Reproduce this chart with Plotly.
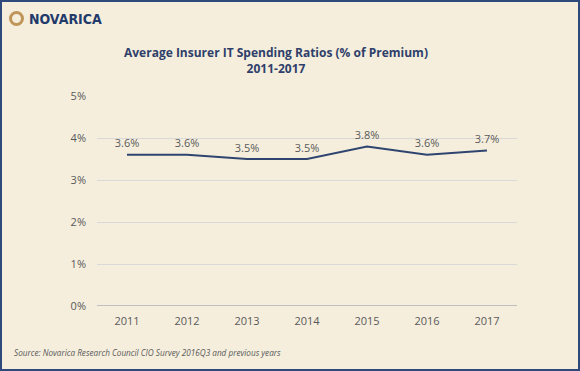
import plotly.graph_objects as go

years = ["2011", "2012", "2013", "2014", "2015", "2016", "2017"]
ratios = [3.6, 3.6, 3.5, 3.5, 3.8, 3.6, 3.7]
labels = ["3.6%", "3.6%", "3.5%", "3.5%", "3.8%", "3.6%", "3.7%"]
tick_vals = [0, 1, 2, 3, 4, 5]
tick_text = ["0%", "1%", "2%", "3%", "4%", "5%"]

W, H = 580, 371
L, R, T, B = 97, 63, 96, 65
PW, PH = W - L - R, H - T - B
bg = "#F5EEDD"


def px(x):
    return (x - L) / PW


def py(y):
    return (H - B - y) / PH


fig = go.Figure()
fig.add_trace(go.Scatter(
    x=years, y=ratios, mode="lines+markers+text", text=labels,
    textposition="top center",
    textfont=dict(family="Open Sans", size=11, color="#595959"),
    line=dict(color="#2F4570", width=2),
    marker=dict(size=6, color="rgba(0,0,0,0)"),
    hoverinfo="skip", showlegend=False,
))

fig.update_layout(
    width=W, height=H,
    paper_bgcolor=bg, plot_bgcolor=bg,
    margin=dict(l=L, r=R, t=T, b=B),
    title=dict(
        text="<b>Average Insurer IT Spending Ratios (% of Premium)<br>2011-2017</b>",
        x=276 / W, xanchor="center", y=1 - 57 / H, yanchor="middle",
        font=dict(family="Open Sans", size=12, color="#2F3F6A"),
    ),
    xaxis=dict(
        type="category", range=[-0.5, 6.5], showgrid=False,
        showline=False, ticks="",
        tickfont=dict(family="Open Sans", size=11, color="#595959"),
        zeroline=False, ticklabelstandoff=7,
    ),
    yaxis=dict(
        range=[0, 5], tickvals=tick_vals, ticktext=tick_text,
        showgrid=True, gridcolor="#D9D9D9", gridwidth=1,
        zeroline=False, showline=False, ticks="",
        tickfont=dict(family="Open Sans", size=11, color="#595959"),
        ticklabelstandoff=10,
    ),
)

# baseline at 0%
fig.add_shape(type="line", xref="paper", yref="y", x0=0, x1=1, y0=0, y1=0,
              line=dict(color="#BFBFBF", width=2))

# frame border
fig.add_shape(type="rect", xref="paper", yref="paper",
              x0=px(1), x1=px(W - 1), y0=py(H - 1), y1=py(1),
              line=dict(color="#2E4A7D", width=2), layer="above")

# logo ring
fig.add_shape(type="circle", xref="paper", yref="paper",
              x0=px(10.5), x1=px(22.5), y0=py(24.5), y1=py(12.5),
              line=dict(color="#C0955A", width=3))

fig.add_annotation(text="<b>NOVARICA</b>", xref="paper", yref="paper",
                   x=px(27), y=py(19), xanchor="left", yanchor="middle",
                   showarrow=False,
                   font=dict(family="DejaVu Sans Condensed", size=14, color="#1F3A6B"))

fig.add_annotation(text="<i>Source: Novarica Research Council CIO Survey 2016Q3 and previous years</i>",
                   xref="paper", yref="paper", x=px(12), y=py(352),
                   xanchor="left", yanchor="middle", showarrow=False,
                   font=dict(family="Open Sans", size=8.2, color="#595959"))

fig.write_html("out.html", config={"displayModeBar": False},
               post_script="document.body.style.margin='0';")
